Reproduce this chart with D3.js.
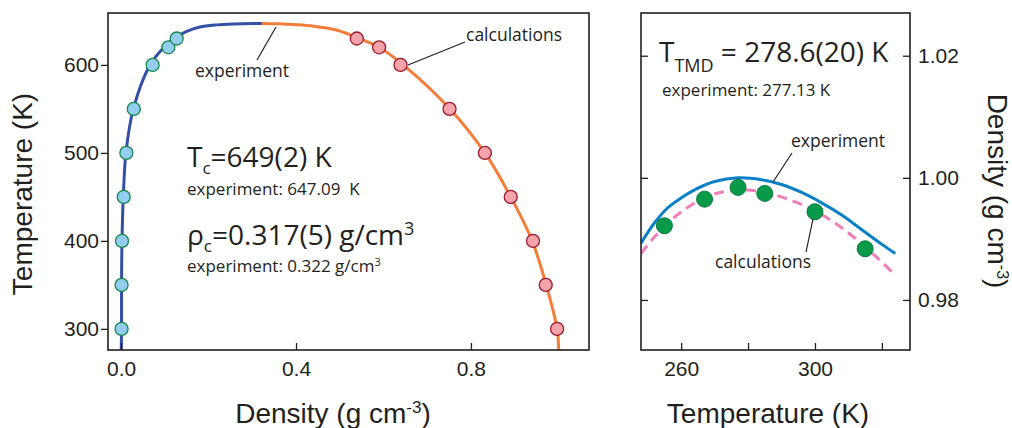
<!DOCTYPE html>
<meta charset="utf-8">
<style>
    body { margin: 0; background: #fff; }
    svg { display: block; }
    .tick text, .title { font-family: "Liberation Sans", Arial, sans-serif; fill: #231f20; }
    .tick text { font-size: 21px; }
    .title { font-size: 28px; }
    .note { font-family: "Open Sans", sans-serif; fill: #231f20; white-space: pre; }
    .axis .tick line { stroke: #231f20; stroke-width: 1.3; }
    .frame { fill: none; stroke: #231f20; stroke-width: 1.6; }
    .leader { stroke: #231f20; stroke-width: 1.2; }
</style>
<svg width="1012" height="428"></svg>
<script src="https://cdn.jsdelivr.net/npm/d3@7"></script>
<script>

    // ---- left panel: liquid/vapour coexistence curve ----
    // experiment, vapour branch (density g/cm3, T in K)
    var expGasRho = [0.000, 0.001, 0.001, 0.002, 0.005, 0.011, 0.028, 0.066, 0.098, 0.121, 0.150, 0.180, 0.218, 0.256, 0.322];
    var expGasT   = [270,   300,   350,   400,   450,   500,   550,   600,   620,   630,   638,   643,   645.5, 646.6, 647.1];
    // experiment, liquid branch
    var expLiqRho = [0.322, 0.360, 0.400, 0.440, 0.490, 0.520, 0.545, 0.590, 0.645, 0.752, 0.832, 0.891, 0.940, 0.972, 0.997, 1.001];
    var expLiqT   = [647.1, 646.7, 645.7, 644,   640,   635,   630,   620,   600,   550,   500,   450,   400,   350,   300,   270];
    // calculations
    var calcGasT   = [300, 350, 400, 450, 500, 550, 600, 620, 630];
    var calcGasRho = [0.001, 0.001, 0.002, 0.006, 0.012, 0.029, 0.072, 0.108, 0.127];
    var calcLiqT   = [630, 620, 600, 550, 500, 450, 400, 350, 300];
    var calcLiqRho = [0.539, 0.590, 0.639, 0.751, 0.832, 0.891, 0.942, 0.971, 0.997];

    var leftXTicks = [0.0, 0.4, 0.8];
    var leftYTicks = [300, 400, 500, 600];

    // ---- right panel: density maximum ----
    var expTmdT   = [248, 252, 256, 260, 265, 270, 277, 284, 290, 296, 302, 308, 314, 320, 324];
    var expTmdRho = [0.9893, 0.9926, 0.9951, 0.9967, 0.9983, 0.9994, 1.0000, 0.9997, 0.9989, 0.9976, 0.9959, 0.9939, 0.9915, 0.9891, 0.9876];
    var fitTmdT   = [248, 252, 256, 260, 265, 270, 278, 285, 292, 300, 306, 312, 318, 324];
    var fitTmdRho = [0.9876, 0.9903, 0.9926, 0.9944, 0.9962, 0.9974, 0.9980, 0.9976, 0.9965, 0.9946, 0.9926, 0.9901, 0.9872, 0.9841];
    var calcTmdT   = [255, 267, 277, 285, 300, 315];
    var calcTmdRho = [0.99215, 0.99651, 0.99843, 0.99745, 0.99444, 0.98838];

    var rightXTicks = [260, 280, 300, 320];
    var rightXLabels = [260, 300];
    var rightYTicks = [0.98, 1.00, 1.02];

    var svg = d3.select("svg");

    // scales
    var xL = d3.scaleLinear().domain([-0.03, 1.07]).range([108, 589]);
    var yL = d3.scaleLinear().domain([276, 659]).range([350, 13]);
    var xR = d3.scaleLinear().domain([248, 328.4]).range([641, 910]);
    var yR = d3.scaleLinear().domain([0.9718, 1.027]).range([350, 13]);

    var defs = svg.append("defs");
    defs.append("clipPath").attr("id", "clipL").append("rect")
        .attr("x", 108).attr("y", 13).attr("width", 481).attr("height", 337);
    defs.append("clipPath").attr("id", "clipR").append("rect")
        .attr("x", 641).attr("y", 13).attr("width", 269).attr("height", 337);

    function pairs(a, b) { return a.map(function(v, i) { return [v, b[i]]; }); }

    // ---------- left panel ----------
    var lineL = d3.line()
        .x(function(d) { return xL(d[0]); })
        .y(function(d) { return yL(d[1]); })
        .curve(d3.curveCatmullRom.alpha(0.5));

    var gL = svg.append("g").attr("clip-path", "url(#clipL)");
    gL.append("path").datum(pairs(expGasRho, expGasT))
        .attr("d", lineL).attr("fill", "none")
        .attr("stroke", "#3450a6").attr("stroke-width", 3);
    gL.append("path").datum(pairs(expLiqRho, expLiqT))
        .attr("d", lineL).attr("fill", "none")
        .attr("stroke", "#f47d3a").attr("stroke-width", 3);

    gL.selectAll(".gas").data(pairs(calcGasRho, calcGasT)).enter().append("circle")
        .attr("cx", function(d) { return xL(d[0]); })
        .attr("cy", function(d) { return yL(d[1]); })
        .attr("r", 6.5)
        .attr("fill", "#93cdef").attr("stroke", "#178a4c").attr("stroke-width", 1.3);
    gL.selectAll(".liq").data(pairs(calcLiqRho, calcLiqT)).enter().append("circle")
        .attr("cx", function(d) { return xL(d[0]); })
        .attr("cy", function(d) { return yL(d[1]); })
        .attr("r", 6.5)
        .attr("fill", "#f4a3ab").attr("stroke", "#9c1b2b").attr("stroke-width", 1.3);

    svg.append("rect").attr("class", "frame")
        .attr("x", 108).attr("y", 13).attr("width", 481).attr("height", 337);

    svg.append("g").attr("class", "axis")
        .attr("transform", "translate(108,0)")
        .call(d3.axisLeft(yL).tickValues(leftYTicks).tickSize(7).tickPadding(2))
        .call(function(g) { g.select(".domain").remove(); });

    svg.append("g").attr("class", "axis")
        .attr("transform", "translate(0,350)")
        .call(d3.axisBottom(xL).tickValues(leftXTicks).tickSize(-7).tickPadding(11)
            .tickFormat(d3.format(".1f")))
        .call(function(g) { g.select(".domain").remove(); });

    svg.append("text").attr("class", "title")
        .attr("transform", "translate(32,194) rotate(-90)")
        .attr("text-anchor", "middle").text("Temperature (K)");

    var tl = svg.append("text").attr("class", "title")
        .attr("x", 333).attr("y", 423).attr("text-anchor", "middle");
    tl.append("tspan").text("Density (g cm");
    tl.append("tspan").attr("font-size", "17px").attr("dy", -10).text("-3");
    tl.append("tspan").attr("dy", 10).text(")");

    // annotations, left
    svg.append("line").attr("class", "leader").attr("x1", 257).attr("y1", 60).attr("x2", 276).attr("y2", 27);
    svg.append("text").attr("class", "note").attr("x", 195).attr("y", 77)
        .style("font-size", "17.5px").text("experiment");
    svg.append("line").attr("class", "leader").attr("x1", 465).attr("y1", 42).attr("x2", 408).attr("y2", 65);
    svg.append("text").attr("class", "note").attr("x", 466).attr("y", 41)
        .style("font-size", "17.5px").text("calculations");

    var tc = svg.append("text").attr("class", "note").attr("x", 187).attr("y", 167).style("font-size", "28px");
    tc.append("tspan").text("T");
    tc.append("tspan").attr("dy", 7).style("font-size", "17px").text("c");
    tc.append("tspan").attr("dy", -7).text("=649(2) K");
    svg.append("text").attr("class", "note").attr("x", 187).attr("y", 195)
        .style("font-size", "17px").text("experiment: 647.09  K");

    var rc = svg.append("text").attr("class", "note").attr("x", 187).attr("y", 245).style("font-size", "28px");
    rc.append("tspan").text("\u03c1");
    rc.append("tspan").attr("dy", 7).style("font-size", "17px").text("c");
    rc.append("tspan").attr("dy", -7).text("=0.317(5) g/cm");
    rc.append("tspan").attr("dy", -10).style("font-size", "18px").text("3");
    var re = svg.append("text").attr("class", "note").attr("x", 187).attr("y", 272).style("font-size", "17px");
    re.append("tspan").text("experiment: 0.322 g/cm");
    re.append("tspan").attr("dy", -6).style("font-size", "11px").text("3");

    // ---------- right panel ----------
    var lineR = d3.line()
        .x(function(d) { return xR(d[0]); })
        .y(function(d) { return yR(d[1]); })
        .curve(d3.curveCatmullRom.alpha(0.5));

    var gR = svg.append("g").attr("clip-path", "url(#clipR)");
    gR.append("path").datum(pairs(fitTmdT, fitTmdRho))
        .attr("d", lineR).attr("fill", "none")
        .attr("stroke", "#ef7fb6").attr("stroke-width", 3)
        .attr("stroke-dasharray", "10,6");
    gR.append("path").datum(pairs(expTmdT, expTmdRho))
        .attr("d", lineR).attr("fill", "none")
        .attr("stroke", "#0a80c6").attr("stroke-width", 3);
    gR.selectAll(".tmd").data(pairs(calcTmdT, calcTmdRho)).enter().append("circle")
        .attr("cx", function(d) { return xR(d[0]); })
        .attr("cy", function(d) { return yR(d[1]); })
        .attr("r", 8)
        .attr("fill", "#069a49").attr("stroke", "#0b7a3c").attr("stroke-width", 1);

    svg.append("rect").attr("class", "frame")
        .attr("x", 641).attr("y", 13).attr("width", 269).attr("height", 337);

    svg.append("g").attr("class", "axis")
        .attr("transform", "translate(0,350)")
        .call(d3.axisBottom(xR).tickValues(rightXTicks).tickSize(-7).tickPadding(11)
            .tickFormat(function(d) { return rightXLabels.indexOf(d) >= 0 ? d : ""; }))
        .call(function(g) { g.select(".domain").remove(); });

    svg.append("g").attr("class", "axis")
        .attr("transform", "translate(910,0)")
        .call(d3.axisRight(yR).tickValues(rightYTicks).tickSize(-7).tickPadding(8)
            .tickFormat(d3.format(".2f")))
        .call(function(g) { g.select(".domain").remove(); });

    svg.append("g").attr("class", "axis")
        .attr("transform", "translate(641,0)")
        .call(d3.axisLeft(yR).tickValues(rightYTicks).tickSize(-7).tickFormat(""))
        .call(function(g) { g.select(".domain").remove(); });

    svg.append("text").attr("class", "title")
        .attr("x", 768).attr("y", 423).attr("text-anchor", "middle").text("Temperature (K)");

    var tr = svg.append("text").attr("class", "title")
        .attr("transform", "translate(988,191) rotate(90)").attr("text-anchor", "middle");
    tr.append("tspan").text("Density (g cm");
    tr.append("tspan").attr("font-size", "16px").attr("dy", -9).text("-3");
    tr.append("tspan").attr("dy", 9).text(")");

    // annotations, right
    var tt = svg.append("text").attr("class", "note").attr("x", 659).attr("y", 62).style("font-size", "28px");
    tt.append("tspan").text("T");
    tt.append("tspan").attr("dy", 10).style("font-size", "18px").text("TMD");
    tt.append("tspan").attr("dy", -10).text(" = 278.6(20) K");
    svg.append("text").attr("class", "note").attr("x", 662).attr("y", 96)
        .style("font-size", "17px").text("experiment: 277.13 K");

    svg.append("line").attr("class", "leader").attr("x1", 792).attr("y1", 153).attr("x2", 773).attr("y2", 182);
    svg.append("text").attr("class", "note").attr("x", 791).attr("y", 147)
        .style("font-size", "17.5px").text("experiment");
    svg.append("line").attr("class", "leader").attr("x1", 806).attr("y1", 252).attr("x2", 813).attr("y2", 219);
    svg.append("text").attr("class", "note").attr("x", 715).attr("y", 268)
        .style("font-size", "17.5px").text("calculations");

</script>
